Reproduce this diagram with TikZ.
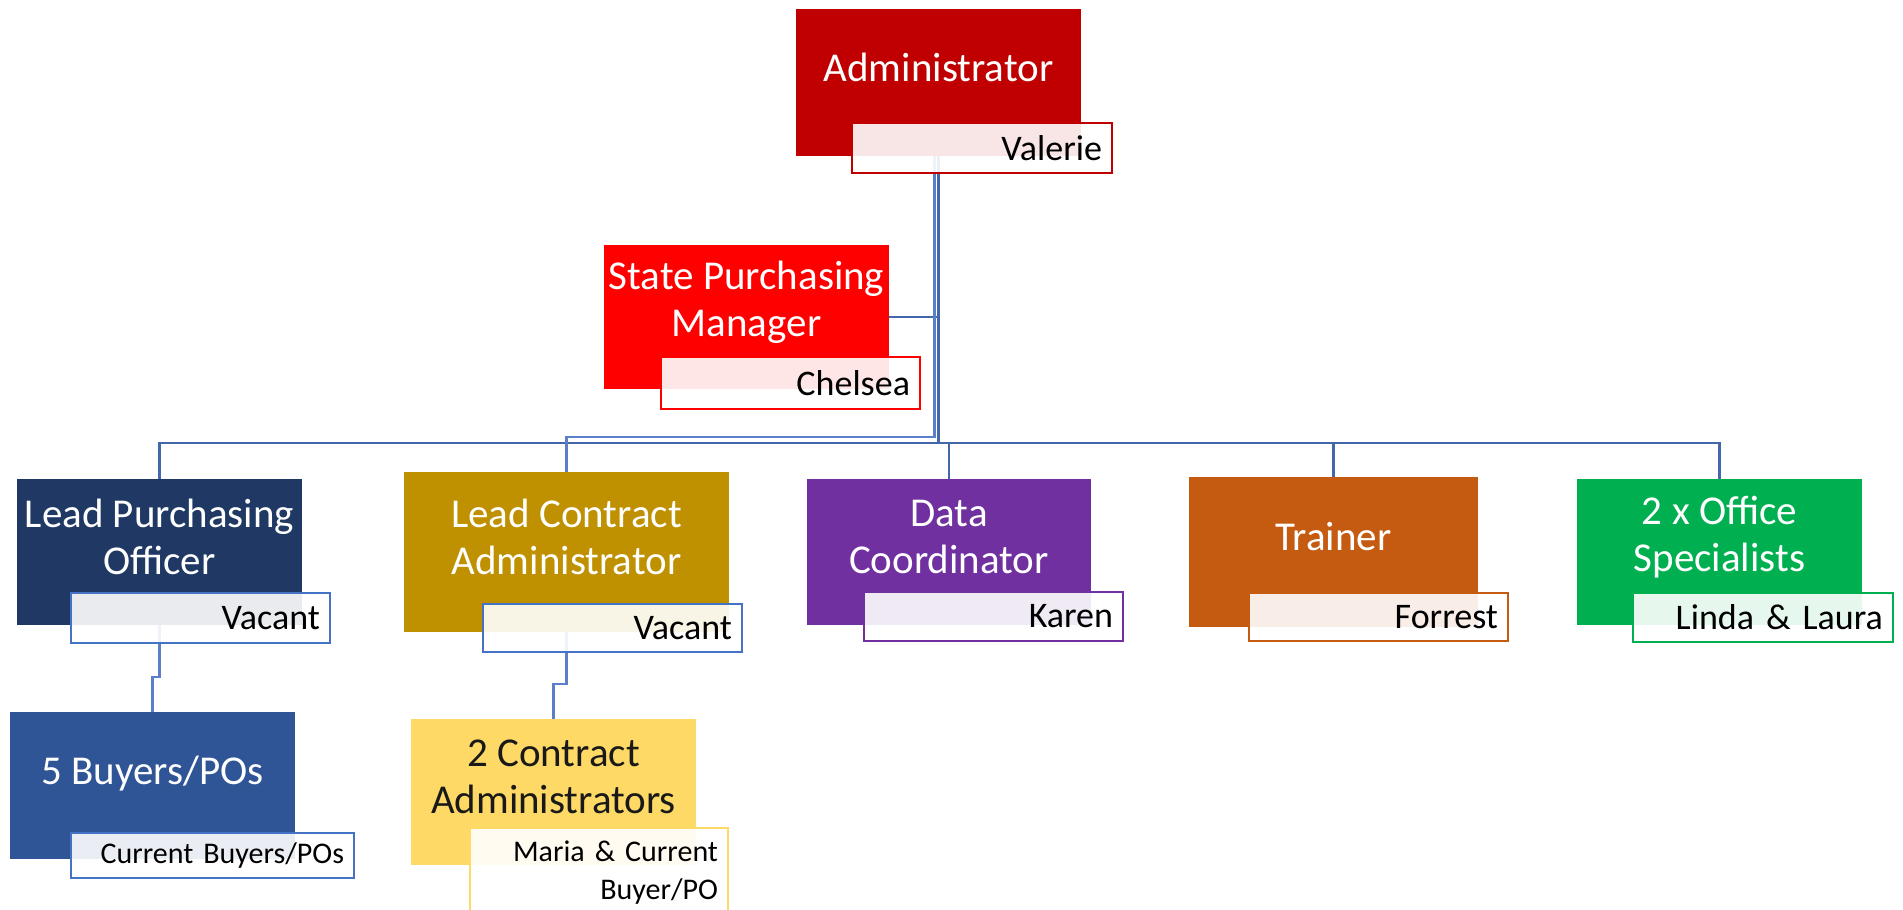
\documentclass[tikz,border=0pt]{standalone}
\usepackage{fontspec}
\setmainfont{Carlito}
\usetikzlibrary{positioning,backgrounds}

\definecolor{admred}{HTML}{C00000}
\definecolor{mgrred}{HTML}{FF0000}
\definecolor{navy}{HTML}{203864}
\definecolor{gold}{HTML}{BF9000}
\definecolor{violet}{HTML}{7030A0}
\definecolor{rust}{HTML}{C55A11}
\definecolor{leaf}{HTML}{00B050}
\definecolor{midblue}{HTML}{2F5597}
\definecolor{sand}{HTML}{FFD966}
\definecolor{edgeblue}{HTML}{4472C4}
\definecolor{linkblue}{HTML}{4467AC}
\definecolor{sublink}{HTML}{5B7FC8}

\tikzset{
  role/.style={rectangle, inner sep=0pt, minimum width=285pt, minimum height=146pt},
  title/.style={text=white, align=center, inner sep=0pt, font=\fontsize{41}{47}\selectfont},
  holder/.style={rectangle, line width=2pt, fill=white, fill opacity=0.9, text opacity=1,
    text=black, inner xsep=10pt, inner ysep=0pt, align=right, font=\fontsize{36}{40}\selectfont},
  small/.style={font=\fontsize{30}{38}\selectfont},
  orgline/.style={draw=linkblue, line width=2.7pt},
  subline/.style={draw=sublink, line width=2.4pt},
}

\begin{document}
\begin{tikzpicture}[x=1pt,y=-1pt]
\useasboundingbox (0,0) rectangle (1903,910);

% top of the chart
\node (admin) at (938.5,82.5) [role, minimum height=147pt, fill=admred] {};
\node (admintitle) at ([yshift=15pt]admin.center) [title] {Administrator};
\node (adminname) at (982,148) [holder, draw=admred, text width=240pt, minimum height=50pt] {Valerie};

\node (spm) at (746.5,317) [role, minimum height=144pt, fill=mgrred] {};
\node (spmtitle) at ([yshift=15pt]spm.center) [title] {State Purchasing\\Manager};
\node (spmname) at (790.5,383) [holder, draw=mgrred, text width=239pt, minimum height=52pt] {Chelsea};

% second row
\node (lpo) at (159.5,552) [role, fill=navy] {};
\node (lpotitle) at ([yshift=15pt]lpo.center) [title] {Lead Purchasing\\Officer};
\node (lponame) at (200.5,618) [holder, draw=edgeblue, text width=239pt, minimum height=50pt] {Vacant};

\node (lca) at (566.5,552) [role, minimum width=325pt, minimum height=160pt, fill=gold] {};
\node (lcatitle) at ([yshift=15pt]lca.center) [title] {Lead Contract\\Administrator};
\node (lcaname) at (612.5,628) [holder, draw=edgeblue, text width=239pt, minimum height=48pt] {Vacant};

\node (dc) at (949,552) [role, minimum width=284pt, fill=violet] {};
\node (dctitle) at ([yshift=15pt]dc.center) [title] {Data\\Coordinator};
\node (dcname) at (993.5,616.5) [holder, draw=violet, text width=239pt, minimum height=49pt] {Karen};

\node (trainer) at (1333.5,552) [role, minimum width=289pt, minimum height=150pt, fill=rust] {};
\node (trainertitle) at ([yshift=15pt]trainer.center) [title] {Trainer};
\node (trainername) at (1378.5,617) [holder, draw=rust, text width=239pt, minimum height=48pt] {Forrest};

\node (office) at (1719.5,552) [role, fill=leaf] {};
\node (officetitle) at ([yshift=15pt]office.center) [title] {2 x Office\\Specialists};
\node (officename) at (1763,617.5) [holder, draw=leaf, text width=240pt, minimum height=49pt] {Linda \& Laura};

% third row
\node (buyers) at (152.5,785.5) [role, minimum height=147pt, fill=midblue] {};
\node (buyerstitle) at ([yshift=12pt]buyers.center) [title] {5 Buyers/POs};
\node (buyersname) at (212.5,855.5) [holder, small, draw=edgeblue, text width=263pt, minimum height=45pt] {Current Buyers/POs};

\node (contracts) at (553.5,792) [role, fill=sand] {};
\node (contractstitle) at ([yshift=15pt]contracts.center) [title, text=black!90] {2 Contract\\Administrators};
\node (contractsname) at (599,827) [holder, small, anchor=north, draw=sand, text width=238pt, inner ysep=13pt] {Maria \& Current\\Buyer/PO};

\begin{scope}[on background layer]
\fill[white] (0,0) rectangle (1903,910);
\coordinate (hub) at (938.5,443);
\coordinate (hubb) at (934.5,437);
\coordinate (joga) at (152.5,677);
\coordinate (jogb) at (553.5,684);

\draw[orgline] (admin) -- (hub);
\draw[orgline] (spm) -- (spm -| hub);
\draw[orgline] (hub) -| (lpo);
\draw[orgline] (hub) -| (dc);
\draw[orgline] (hub) -| (trainer);
\draw[orgline] (hub) -| (office);
\draw[subline] (hubb |- admin.south) -- (hubb) -| (lca);

\draw[subline] (lpo) |- (joga) -- (buyers);
\draw[subline] (lca) |- (jogb) -- (contracts);
\end{scope}
\end{tikzpicture}
\end{document}
